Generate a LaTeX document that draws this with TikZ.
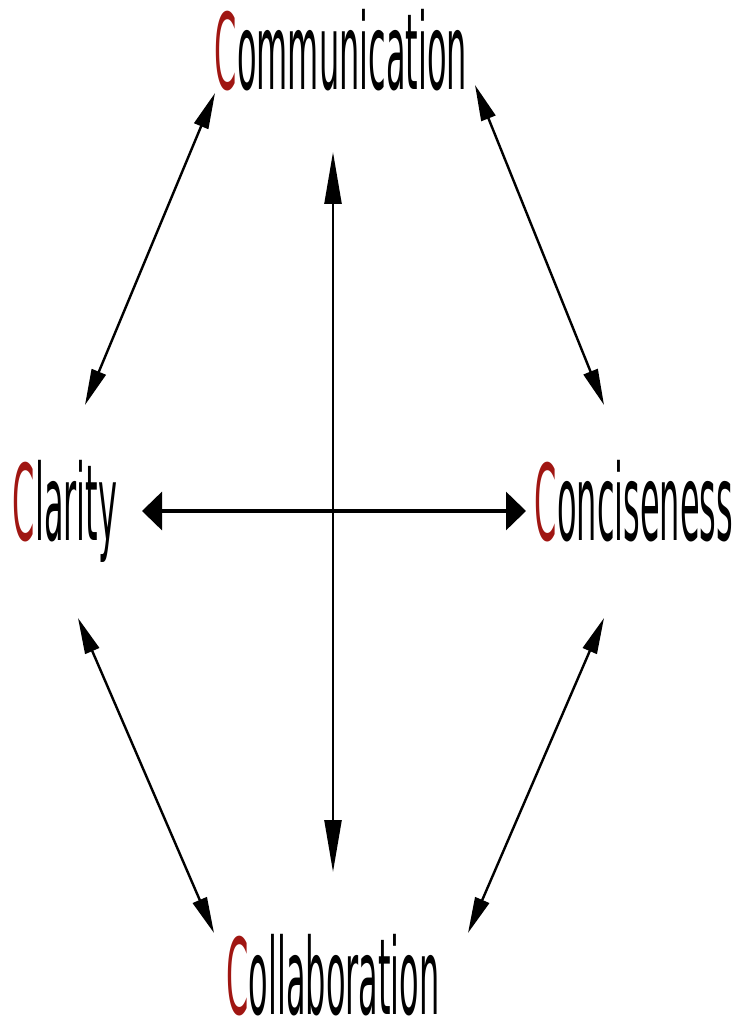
\documentclass[tikz,border=0pt]{standalone}
\usepackage{fontspec}
\setmainfont{DejaVu Sans}
\usetikzlibrary{arrows.meta}
\definecolor{cred}{RGB}{160,22,18}
\newcommand{\firstC}[1]{\textcolor{cred}{#1}}

\begin{document}
\begin{tikzpicture}[
      x=1pt, y=-1pt,
      term/.style={inner sep=0pt, anchor=base, yscale=3.3,
        font=\fontsize{32}{38}\selectfont},
      link/.style={line width=2.4pt, {Triangle[length=36pt,width=15pt]}-{Triangle[length=36pt,width=15pt]}},
      vlink/.style={line width=2.4pt, {Triangle[length=52pt,width=17pt]}-{Triangle[length=52pt,width=17pt]}},
      hlink/.style={line width=3.4pt, {Triangle[length=20pt,width=38pt]}-{Triangle[length=20pt,width=38pt]}}
    ]
      \useasboundingbox (0,0) rectangle (736,1024);
      \node[term] (comm) at (341,90) {\firstC{C}ommunication};
      \node[term] (clar) at (65,540) {\firstC{C}larity};
      \node[term] (conc) at (634,540) {\firstC{C}onciseness};
      \node[term] (coll) at (333,1014) {\firstC{C}ollaboration};
      % outer ring
      \draw[link] ([shift={(-126,3)}]comm.base) -- ([shift={(20,-135)}]clar.base);
      \draw[link] ([shift={(134,-5)}]comm.base) -- ([shift={(-30,-135)}]conc.base);
      \draw[link] ([shift={(13,78)}]clar.base) -- ([shift={(-119,-81)}]coll.base);
      \draw[link] ([shift={(-30,78)}]conc.base) -- ([shift={(135,-81)}]coll.base);
      % cross
      \draw[hlink] ([shift={(77,-29)}]clar.base) -- ([shift={(-108,-29)}]conc.base);
      \draw[vlink] ([shift={(-8,62)}]comm.base) -- ([shift={(0,-142)}]coll.base);
    \end{tikzpicture}
\end{document}
